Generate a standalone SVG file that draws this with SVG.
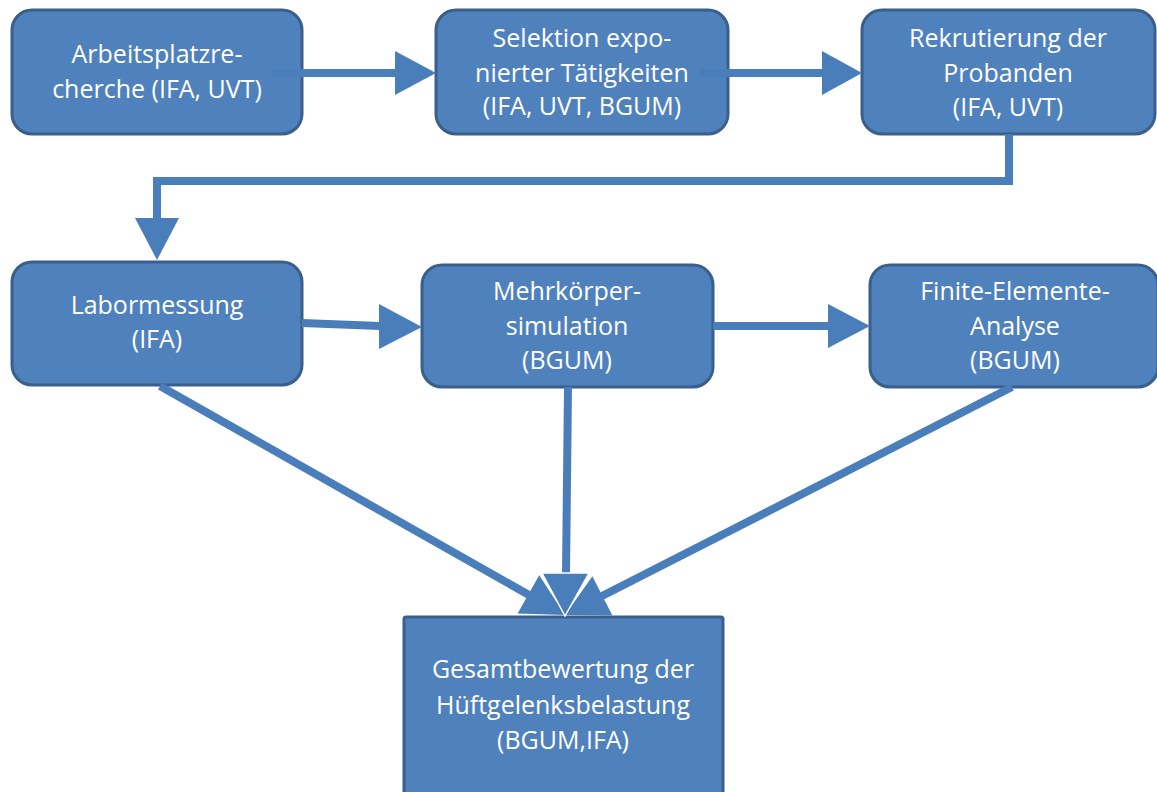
<svg xmlns="http://www.w3.org/2000/svg" width="1157" height="792" viewBox="0 0 1157 792">
<style>
.box{fill:#4F81BD;stroke:#3A5F8B;stroke-width:3}
.lbl{font-family:"Open Sans","Liberation Sans",sans-serif;font-size:25px;fill:#FFFFFF;text-anchor:middle}
.ln{fill:none;stroke:#4A7EBB;stroke-width:8}
.hd{fill:#4A7EBB}
.hdw{fill:#4A7EBB;stroke:#FFFFFF;stroke-width:1.5}
</style>
<rect width="1157" height="792" fill="#FFFFFF"/>
<g id="n1">
<rect class="box" x="12" y="10" width="290" height="124" rx="20"/>
<text class="lbl" x="157" y="63">Arbeitsplatzre-</text>
<text class="lbl" x="157" y="98">cherche (IFA, UVT)</text>
</g>
<g id="n2">
<rect class="box" x="436" y="10" width="292" height="124" rx="20"/>
<text class="lbl" x="582" y="47">Selektion expo-</text>
<text class="lbl" x="582" y="82">nierter Tätigkeiten</text>
<text class="lbl" x="582" y="115">(IFA, UVT, BGUM)</text>
</g>
<g id="n3">
<rect class="box" x="862" y="10" width="293" height="124" rx="20"/>
<text class="lbl" x="1008" y="47">Rekrutierung der</text>
<text class="lbl" x="1008" y="82">Probanden</text>
<text class="lbl" x="1008" y="116">(IFA, UVT)</text>
</g>
<g id="n4">
<rect class="box" x="12" y="262" width="290" height="123" rx="20"/>
<text class="lbl" x="157" y="314">Labormessung</text>
<text class="lbl" x="157" y="348">(IFA)</text>
</g>
<g id="n5">
<rect class="box" x="422" y="265" width="291" height="122" rx="20"/>
<text class="lbl" x="567" y="300">Mehrkörper-</text>
<text class="lbl" x="567" y="335">simulation</text>
<text class="lbl" x="567" y="369">(BGUM)</text>
</g>
<g id="n6">
<rect class="box" x="870" y="265" width="288" height="122" rx="20"/>
<text class="lbl" x="1015" y="300">Finite-Elemente-</text>
<text class="lbl" x="1015" y="335">Analyse</text>
<text class="lbl" x="1015" y="369">(BGUM)</text>
</g>
<g id="n7">
<rect class="box" x="404" y="617" width="319" height="190" rx="2"/>
<text class="lbl" x="563" y="678">Gesamtbewertung der</text>
<text class="lbl" x="563" y="714">Hüftgelenksbelastung</text>
<text class="lbl" x="563" y="749">(BGUM,IFA)</text>
</g>
<g id="connectors">
<line class="ln" x1="273" y1="73" x2="396" y2="73"/>
<polygon class="hd" points="395,51 436,73 395,95"/>
<line class="ln" x1="700" y1="73" x2="823" y2="73"/>
<polygon class="hd" points="822,51 862,73 822,95"/>
<path class="ln" d="M1009,134 V181 H157 V219"/>
<polygon class="hd" points="135,218 179,218 157,260"/>
<line class="ln" x1="302" y1="323" x2="380" y2="326"/>
<polygon class="hd" points="379,304 422,327 379,349"/>
<line class="ln" x1="713" y1="326" x2="829" y2="326"/>
<polygon class="hd" points="828,304 870,326 828,348"/>
<line class="ln" x1="160" y1="386" x2="529" y2="595"/>
<polygon class="hd" points="517.6,613.4 565,615 539.2,575.2"/>
<line class="ln" x1="1012" y1="387" x2="602" y2="596"/>
<polygon class="hd" points="592.4,576.3 565,615 612.4,615.5"/>
<line class="ln" x1="568" y1="387" x2="566" y2="574"/>
<polygon class="hdw" points="542,573 589,573 565,616"/>
</g>
</svg>
